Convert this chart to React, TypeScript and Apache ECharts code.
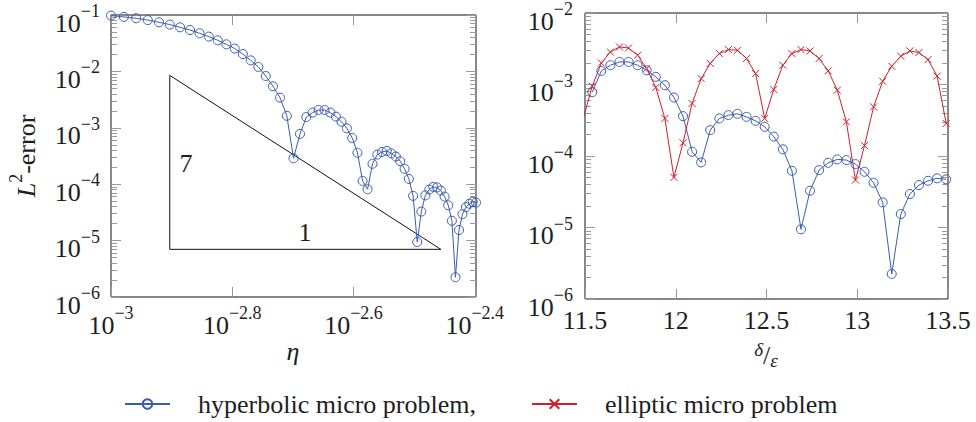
import React, { useEffect, useRef } from "react";
import * as echarts from "echarts";

// ---------- data ----------
const etaValues = [
  0.001, 0.00105, 0.0011, 0.00115, 0.0012, 0.00125, 0.0013, 0.00135, 0.0014, 0.00145,
  0.0015, 0.00155, 0.0016, 0.00165, 0.0017, 0.00175, 0.0018, 0.00185, 0.0019, 0.00195,
  0.002, 0.00205, 0.0021, 0.00215, 0.0022, 0.00225, 0.0023, 0.00235, 0.0024, 0.00245,
  0.0025, 0.00255, 0.0026, 0.00265, 0.0027, 0.00275, 0.0028, 0.00285, 0.0029, 0.00295,
  0.003, 0.00305, 0.0031, 0.00315, 0.0032, 0.00325, 0.0033, 0.00335, 0.0034, 0.00345,
  0.0035, 0.00355, 0.0036, 0.00365, 0.0037, 0.00375, 0.0038, 0.00385, 0.0039, 0.00395,
  0.004,
];
const hyperbolicErrorEta = [
  0.0976, 0.0925, 0.0874, 0.0812, 0.0742, 0.0676, 0.0605, 0.0542, 0.0474, 0.0414,
  0.0356, 0.0302, 0.0254, 0.0203, 0.0157, 0.012, 0.00829, 0.00544, 0.00343, 0.00163,
  0.000288, 7.81e-4, 1.55e-3, 1.86e-3, 2.07e-3, 2.07e-3, 1.86e-3, 1.58e-3, 1.28e-3, 9.78e-4,
  6.58e-4, 3.61e-4, 1.145e-4, 8.14e-5, 2.3e-4, 3.35e-4, 3.73e-4, 3.89e-4, 3.53e-4, 3.1e-4,
  2.56e-4, 1.87e-4, 1.24e-4, 6.21e-5, 9.44e-6, 3.27e-5, 6.35e-5, 8.04e-5, 8.96e-5, 8.77e-5,
  7.71e-5, 6.02e-5, 4.22e-5, 2.25e-5, 2.24e-6, 1.54e-5, 2.94e-5, 3.92e-5, 4.5e-5, 4.87e-5,
  4.71e-5,
];
const deltaOverEpsHyperbolic = [
  11.54, 11.59, 11.64, 11.69, 11.74, 11.79, 11.84, 11.89, 11.94, 11.99,
  12.04, 12.09, 12.14, 12.19, 12.24, 12.29, 12.34, 12.39, 12.44, 12.49,
  12.54, 12.59, 12.64, 12.69, 12.74, 12.79, 12.84, 12.89, 12.94, 12.99,
  13.04, 13.09, 13.14, 13.19, 13.24, 13.29, 13.34, 13.39, 13.44, 13.49,
];
const hyperbolicErrorDelta = [
  7.81e-4, 1.55e-3, 1.86e-3, 2.07e-3, 2.07e-3, 1.86e-3, 1.58e-3, 1.28e-3, 9.78e-4, 6.58e-4,
  3.61e-4, 1.145e-4, 8.14e-5, 2.3e-4, 3.35e-4, 3.73e-4, 3.89e-4, 3.53e-4, 3.1e-4, 2.56e-4,
  1.87e-4, 1.24e-4, 6.21e-5, 9.44e-6, 3.27e-5, 6.35e-5, 8.04e-5, 8.96e-5, 8.77e-5, 7.71e-5,
  6.02e-5, 4.22e-5, 2.25e-5, 2.24e-6, 1.54e-5, 2.94e-5, 3.92e-5, 4.5e-5, 4.87e-5, 4.71e-5,
];
const deltaOverEpsElliptic = [
  11.49, 11.54, 11.59, 11.64, 11.69, 11.74, 11.79, 11.84, 11.89, 11.94, 11.99,
  12.04, 12.09, 12.14, 12.19, 12.24, 12.29, 12.34, 12.39, 12.44, 12.49,
  12.54, 12.59, 12.64, 12.69, 12.74, 12.79, 12.84, 12.89, 12.94, 12.99,
  13.04, 13.09, 13.14, 13.19, 13.24, 13.29, 13.34, 13.39, 13.44, 13.49,
];
const ellipticErrorDelta = [
  3.32e-4, 9.47e-4, 2.0e-3, 2.85e-3, 3.35e-3, 3.24e-3, 2.57e-3, 1.67e-3, 9.08e-4, 3.35e-4, 5.02e-5,
  1.53e-4, 5.43e-4, 1.21e-3, 1.97e-3, 2.71e-3, 3.08e-3, 3.01e-3, 2.31e-3, 1.42e-3, 3.35e-4,
  8.52e-4, 1.86e-3, 2.71e-3, 3.08e-3, 2.95e-3, 2.31e-3, 1.55e-3, 8.33e-4, 3.0e-4, 4.61e-5,
  1.4e-4, 4.87e-4, 1.11e-3, 1.8e-3, 2.48e-3, 2.95e-3, 2.8e-3, 2.23e-3, 1.31e-3, 2.85e-4,
];
const slopeTriangleEta = [0.00125, 0.00125, 0.0035, 0.00125];
const slopeTriangleErr = [0.0085, 7e-6, 7e-6, 0.0085];

const leftXTicks = [0.001, 0.0015848931924611134, 0.0025118864315095794, 0.003981071705534973];
const leftYTicks = [1e-6, 1e-5, 1e-4, 1e-3, 1e-2, 1e-1];
const rightYTicks = [1e-6, 1e-5, 1e-4, 1e-3, 1e-2];

const HYP = "hyperbolic micro problem";
const ELL = "elliptic micro problem";

// ---------- style ----------
const FONT = "Liberation Serif";
const INK = "#1e1e1e";
const TICK = "#9a9a9a";
const BLUE = "#3b5cb2";
const RED = "#cd2129";

function minorTicks(fromExp: number, toExp: number) {
  const out: number[] = [];
  for (let e = fromExp; e < toExp; e++) {
    for (let m = 2; m <= 9; m++) out.push(Number((m * Math.pow(10, e)).toPrecision(3)));
  }
  return out;
}

const supRich: any = {
  b: { fontFamily: FONT, fontSize: 26, color: INK, lineHeight: 34, verticalAlign: "bottom" },
  s: { fontFamily: FONT, fontSize: 18, color: INK, lineHeight: 14, verticalAlign: "top" },
};

function powerLabel(v: number) {
  const e = Math.round(Math.log10(v) * 10) / 10;
  const s = (e < 0 ? "\u2212" : "") + String(Math.abs(e));
  return `{b|10}{s|${s}}`;
}

function tickStyle(len: number, values: number[]) {
  return { show: true, inside: true, length: len, customValues: values, lineStyle: { color: TICK, width: 1 } };
}

function logYAxes(grid: number, min: number, max: number, major: number[], minor: number[], margin: number) {
  const base = {
    type: "log",
    gridIndex: grid,
    min,
    max,
    axisLine: { show: false },
    splitLine: { show: false },
  };
  return [
    {
      ...base,
      position: "left",
      axisTick: tickStyle(10, major),
      axisLabel: {
        show: true,
        customValues: major,
        formatter: powerLabel,
        rich: supRich,
        fontFamily: FONT,
        fontSize: 26,
        color: INK,
        margin,
        padding: [8, 0, 0, 0],
      },
    },
    { ...base, position: "left", axisTick: tickStyle(6, minor), axisLabel: { show: false } },
    { ...base, position: "right", axisTick: tickStyle(10, major), axisLabel: { show: false } },
    { ...base, position: "right", axisTick: tickStyle(6, minor), axisLabel: { show: false } },
  ];
}

export default function App() {
  const ref = useRef<HTMLDivElement>(null);

  useEffect(() => {
    if (!ref.current) return;
    const chart = echarts.init(ref.current, null, { renderer: "svg" });

    const leftXBase = {
      type: "log",
      gridIndex: 0,
      min: 0.001,
      max: 0.004,
      axisLine: { show: false },
      splitLine: { show: false },
    };
    const rightXBase = {
      type: "value",
      gridIndex: 1,
      min: 11.5,
      max: 13.5,
      interval: 0.5,
      axisLine: { show: false },
      splitLine: { show: false },
    };

    const option: any = {
      animation: false,
      grid: [
        { left: 111, top: 15, width: 365, height: 282, show: true, borderColor: "#111", borderWidth: 1, backgroundColor: "transparent" },
        { left: 585, top: 13, width: 363, height: 286, show: true, borderColor: "#111", borderWidth: 1, backgroundColor: "transparent" },
      ],
      xAxis: [
        {
          ...leftXBase,
          position: "bottom",
          axisTick: tickStyle(10, leftXTicks),
          axisLabel: {
            show: true,
            customValues: leftXTicks,
            formatter: powerLabel,
            rich: supRich,
            fontFamily: FONT,
            fontSize: 26,
            color: INK,
            margin: 7,
          },
        },
        { ...leftXBase, position: "top", axisTick: tickStyle(10, leftXTicks), axisLabel: { show: false } },
        {
          ...rightXBase,
          position: "bottom",
          axisTick: { show: true, inside: true, length: 10, lineStyle: { color: TICK, width: 1 } },
          axisLabel: {
            show: true,
            fontFamily: FONT,
            fontSize: 26,
            color: INK,
            margin: 8,
          },
        },
        {
          ...rightXBase,
          position: "top",
          axisTick: { show: true, inside: true, length: 10, lineStyle: { color: TICK, width: 1 } },
          axisLabel: { show: false },
        },
      ],
      yAxis: [
        ...logYAxes(0, 1e-6, 1e-1, leftYTicks, minorTicks(-6, -1), 11),
        ...logYAxes(1, 1e-6, 1e-2, rightYTicks, minorTicks(-6, -2), 12),
      ],
      legend: {
        data: [HYP, ELL],
        left: 119,
        top: 386,
        itemWidth: 45,
        itemHeight: 12,
        itemGap: 55,
        selectedMode: false,
        formatter: (n: string) => (n === HYP ? n + "," : n),
        textStyle: {
          fontFamily: FONT,
          fontSize: 26,
          color: INK,
          padding: [0, 0, 0, 23],
        },
      },
      series: [
        {
          type: "line",
          name: HYP,
          xAxisIndex: 0,
          yAxisIndex: 0,
          data: etaValues.map((x, i) => [x, hyperbolicErrorEta[i]]),
          symbol: "circle",
          symbolSize: 9,
          showAllSymbol: true,
          itemStyle: { color: "rgba(255,255,255,0)", borderColor: BLUE, borderWidth: 1 },
          lineStyle: { color: BLUE, width: 1 },
          emphasis: { disabled: true },
          z: 3,
        },
        {
          type: "line",
          name: "slope",
          xAxisIndex: 0,
          yAxisIndex: 0,
          data: slopeTriangleEta.map((x, i) => [x, slopeTriangleErr[i]]),
          symbol: "none",
          lineStyle: { color: "#111", width: 1 },
          silent: true,
          emphasis: { disabled: true },
          z: 2,
        },
        {
          type: "line",
          name: HYP,
          xAxisIndex: 2,
          yAxisIndex: 4,
          data: deltaOverEpsHyperbolic.map((x, i) => [x, hyperbolicErrorDelta[i]]),
          symbol: "circle",
          symbolSize: 9,
          showAllSymbol: true,
          itemStyle: { color: "rgba(255,255,255,0)", borderColor: BLUE, borderWidth: 1 },
          lineStyle: { color: BLUE, width: 1 },
          emphasis: { disabled: true },
          z: 3,
        },
        {
          type: "line",
          name: ELL,
          xAxisIndex: 2,
          yAxisIndex: 4,
          data: deltaOverEpsElliptic.map((x, i) => [x, ellipticErrorDelta[i]]),
          symbol: "path://M0 0L10 10M10 0L0 10",
          symbolSize: 7,
          showAllSymbol: true,
          itemStyle: { color: "rgba(255,255,255,0)", borderColor: RED, borderWidth: 1 },
          lineStyle: { color: RED, width: 1 },
          emphasis: { disabled: true },
          z: 3,
        },
      ],
      graphic: [
        {
          type: "text",
          x: 23,
          y: 156,
          rotation: Math.PI / 2,
          style: {
            text: "{i|L}{s|2}{n|-error}",
            align: "center",
            verticalAlign: "middle",
            rich: {
              i: { fontFamily: FONT, fontSize: 26, fontStyle: "italic", fill: INK, color: INK, lineHeight: 32, verticalAlign: "bottom" },
              s: { fontFamily: FONT, fontSize: 18, fill: INK, color: INK, lineHeight: 14, verticalAlign: "top" },
              n: { fontFamily: FONT, fontSize: 26, fill: INK, color: INK, lineHeight: 32, verticalAlign: "bottom" },
            },
          },
        },
        {
          type: "text",
          x: 293,
          y: 351,
          style: { text: "η", font: "italic 26px Liberation Serif", fill: INK, align: "center", verticalAlign: "middle" },
        },
        {
          type: "text",
          x: 766,
          y: 355,
          style: {
            text: "{d|δ}{l|/}{e|ε}",
            align: "center",
            verticalAlign: "middle",
            rich: {
              d: { fontFamily: FONT, fontSize: 19, fontStyle: "italic", fill: INK, color: INK, lineHeight: 16, verticalAlign: "top" },
              l: { fontFamily: FONT, fontSize: 26, fill: INK, color: INK, lineHeight: 30, verticalAlign: "middle" },
              e: { fontFamily: FONT, fontSize: 19, fontStyle: "italic", fill: INK, color: INK, lineHeight: 16, verticalAlign: "bottom" },
            },
          },
        },
        {
          type: "text",
          x: 186,
          y: 163,
          style: { text: "7", font: "26px Liberation Serif", fill: INK, align: "center", verticalAlign: "middle" },
        },
        {
          type: "text",
          x: 305,
          y: 232,
          style: { text: "1", font: "26px Liberation Serif", fill: INK, align: "center", verticalAlign: "middle" },
        },
      ],
    };

    chart.setOption(option);
    return () => chart.dispose();
  }, []);

  return <div ref={ref} style={{ position: "absolute", left: 0, top: 0, width: 976, height: 422 }} />;
}
